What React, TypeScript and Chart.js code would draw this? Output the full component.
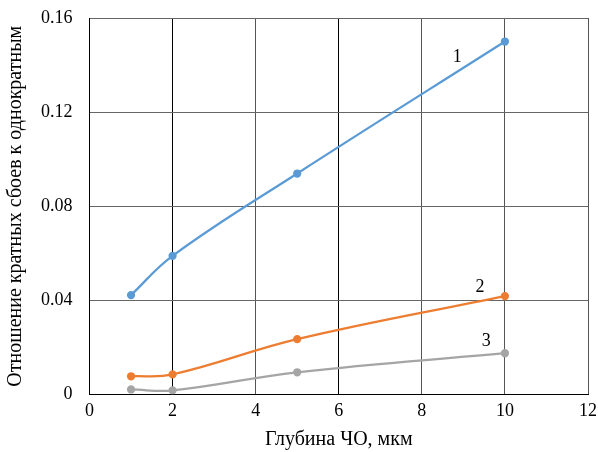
import React, { useEffect, useRef } from "react";
import { Chart, registerables } from "chart.js";

Chart.register(...registerables);

const depths = [1, 2, 5, 10];
const series1 = [0.0422, 0.0589, 0.0939, 0.150];
const series2 = [0.0077, 0.0085, 0.0235, 0.0418];
const series3 = [0.0021, 0.0017, 0.0094, 0.0175];
const seriesNames = ["1", "2", "3"];
const labelX = [8.85, 9.4, 9.55];
const labelY = [0.1435, 0.0455, 0.0225];
const colors = ["#5B9BD5", "#ED7D31", "#A5A5A5"];
const xTitle = "Глубина ЧО, мкм";
const yTitle = "Отношение кратных сбоев к однократным";

const FONT = "'Liberation Serif', 'Times New Roman', serif";

const labelPlugin = {
  id: "seriesLabels",
  afterDatasetsDraw(chart: any) {
    const { ctx, scales } = chart;
    ctx.save();
    ctx.font = `18px ${FONT}`;
    ctx.fillStyle = "#000";
    ctx.textAlign = "center";
    ctx.textBaseline = "middle";
    seriesNames.forEach((n, i) => {
      ctx.fillText(n, scales.x.getPixelForValue(labelX[i]), scales.y.getPixelForValue(labelY[i]));
    });
    ctx.restore();
  },
};

export default function App() {
  const ref = useRef<HTMLCanvasElement>(null);
  useEffect(() => {
    const mk = (vals: number[], i: number) => ({
      label: seriesNames[i],
      data: depths.map((x, j) => ({ x, y: vals[j] })),
      borderColor: colors[i],
      backgroundColor: colors[i],
      borderWidth: 2.25,
      pointRadius: 3,
      pointHoverRadius: 3,
      tension: 0.4,
      fill: false,
    });
    const chart = new Chart(ref.current!, {
      type: "line",
      data: { datasets: [mk(series1, 0), mk(series2, 1), mk(series3, 2)] },
      plugins: [labelPlugin],
      options: {
        animation: false,
        responsive: false,
        layout: { padding: { left: 4, right: 0, top: 0, bottom: 0 } },
        plugins: { legend: { display: false }, tooltip: { enabled: false } },
        scales: {
          x: {
            type: "linear",
            min: 0,
            max: 12,
            afterFit: (s: any) => { s.paddingRight = 10; },
            ticks: { stepSize: 2, color: "#000", font: { family: FONT, size: 18 }, padding: 6 },
            grid: {
              drawTicks: false,
              lineWidth: 1,
              color: (c: any) => (c.tick && (c.tick.value === 2 || c.tick.value === 6) ? "#000" : "#555"),
            },
            border: { color: "#000", width: 1 },
            title: { display: true, text: xTitle, color: "#000", font: { family: FONT, size: 20 }, padding: { top: 0, bottom: 0 } },
          },
          y: {
            min: 0,
            max: 0.16,
            afterFit: (s: any) => { s.paddingTop = 18; },
            ticks: {
              stepSize: 0.04,
              color: "#000",
              font: { family: FONT, size: 18 },
              padding: 17,
              callback: (v: any) => (v === 0 ? "0" : Number(v).toFixed(2)),
            },
            grid: { drawTicks: false, color: "#666", lineWidth: 1 },
            border: { color: "#000", width: 1 },
            title: { display: true, text: yTitle, color: "#000", font: { family: FONT, size: 20 }, padding: { top: 0, bottom: -4 } },
          },
        },
      },
    });
    return () => chart.destroy();
  }, []);
  return (
    <div style={{ position: "fixed", left: 0, top: 0, width: 598, height: 452, background: "#fff" }}>
      <canvas ref={ref} width={598} height={452} />
    </div>
  );
}
